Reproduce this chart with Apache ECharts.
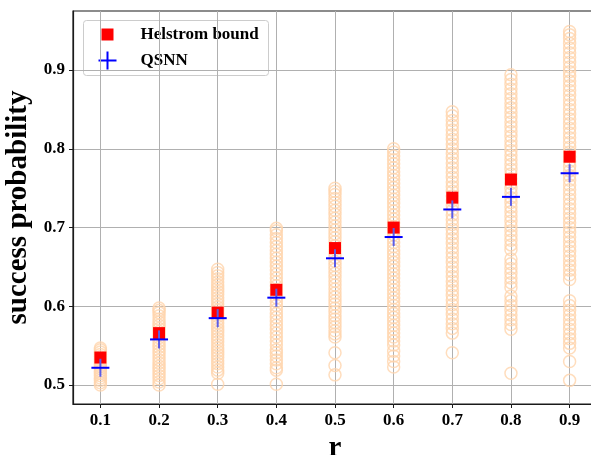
<!DOCTYPE html>
<html>
<head>
<meta charset="utf-8">
<script src="https://cdn.jsdelivr.net/npm/echarts@6/dist/echarts.min.js"></script>
<style>
  html, body { margin: 0; padding: 0; background: #fff; }
  #chart { width: 591px; height: 455px; }
</style>
</head>
<body>
<div id="chart"></div>
<script>
// r values (x positions) and tick labels
const rValues = [0.1, 0.2, 0.3, 0.4, 0.5, 0.6, 0.7, 0.8, 0.9];
const yTicks = [0.5, 0.6, 0.7, 0.8, 0.9];

// Helstrom bound at each r
const helstrom = [0.535, 0.566, 0.592, 0.621, 0.674, 0.700, 0.738, 0.761, 0.790];
// Mean QSNN success probability at each r
const qsnn = [0.522, 0.558, 0.585, 0.611, 0.661, 0.688, 0.723, 0.739, 0.769];

// Individual QSNN trial results per r
const trials01 = [0.500, 0.503, 0.506, 0.509, 0.512, 0.515, 0.518, 0.521, 0.524, 0.527, 0.530, 0.533, 0.536, 0.539, 0.542, 0.545, 0.547];
const trials02 = [0.500, 0.504, 0.508, 0.512, 0.516, 0.520, 0.524, 0.528, 0.532, 0.536, 0.540, 0.544, 0.548, 0.552, 0.556, 0.560, 0.564, 0.568, 0.572, 0.576, 0.580, 0.584, 0.588, 0.592, 0.595, 0.598];
const trials03 = [0.501, 0.515, 0.519, 0.523, 0.527, 0.531, 0.535, 0.539, 0.543, 0.547, 0.551, 0.555, 0.559, 0.563, 0.567, 0.571, 0.575, 0.579, 0.583, 0.587, 0.591, 0.595, 0.599, 0.603, 0.607, 0.611, 0.615, 0.619, 0.623, 0.627, 0.631, 0.635, 0.639, 0.643, 0.647];
const trials04 = [0.501, 0.519, 0.522, 0.527, 0.532, 0.537, 0.541, 0.545, 0.551, 0.556, 0.561, 0.566, 0.571, 0.576, 0.581, 0.586, 0.591, 0.596, 0.601, 0.606, 0.611, 0.616, 0.621, 0.626, 0.631, 0.636, 0.641, 0.646, 0.651, 0.656, 0.661, 0.666, 0.671, 0.676, 0.681, 0.686, 0.691, 0.696, 0.699];
const trials05 = [0.513, 0.525, 0.541, 0.561, 0.565, 0.569, 0.574, 0.579, 0.584, 0.588, 0.593, 0.598, 0.603, 0.607, 0.612, 0.617, 0.622, 0.627, 0.632, 0.637, 0.642, 0.647, 0.652, 0.657, 0.662, 0.667, 0.672, 0.677, 0.682, 0.687, 0.692, 0.697, 0.702, 0.707, 0.712, 0.717, 0.722, 0.727, 0.732, 0.737, 0.742, 0.746, 0.750];
const trials06 = [0.523, 0.530, 0.537, 0.543, 0.551, 0.556, 0.561, 0.566, 0.571, 0.576, 0.581, 0.586, 0.591, 0.596, 0.601, 0.606, 0.611, 0.616, 0.621, 0.626, 0.631, 0.636, 0.641, 0.646, 0.651, 0.656, 0.661, 0.666, 0.671, 0.676, 0.681, 0.686, 0.691, 0.696, 0.701, 0.706, 0.711, 0.716, 0.721, 0.726, 0.731, 0.736, 0.741, 0.746, 0.751, 0.756, 0.761, 0.766, 0.771, 0.776, 0.781, 0.786, 0.791, 0.796, 0.800];
const trials07 = [0.541, 0.566, 0.572, 0.578, 0.584, 0.590, 0.596, 0.602, 0.608, 0.614, 0.620, 0.626, 0.632, 0.638, 0.644, 0.650, 0.656, 0.662, 0.668, 0.674, 0.680, 0.686, 0.692, 0.698, 0.704, 0.710, 0.716, 0.722, 0.728, 0.734, 0.740, 0.746, 0.752, 0.758, 0.764, 0.770, 0.776, 0.782, 0.788, 0.794, 0.800, 0.806, 0.812, 0.818, 0.824, 0.830, 0.836, 0.842, 0.847];
const trials08 = [0.515, 0.571, 0.577, 0.583, 0.589, 0.595, 0.601, 0.607, 0.613, 0.624, 0.630, 0.636, 0.642, 0.648, 0.654, 0.660, 0.672, 0.678, 0.684, 0.690, 0.696, 0.702, 0.708, 0.714, 0.720, 0.726, 0.732, 0.738, 0.744, 0.750, 0.756, 0.762, 0.768, 0.774, 0.780, 0.786, 0.792, 0.798, 0.804, 0.810, 0.816, 0.822, 0.828, 0.834, 0.840, 0.846, 0.852, 0.858, 0.864, 0.870, 0.876, 0.882, 0.888, 0.894];
const trials09 = [0.506, 0.530, 0.547, 0.553, 0.559, 0.565, 0.571, 0.577, 0.583, 0.589, 0.595, 0.601, 0.607, 0.634, 0.640, 0.646, 0.652, 0.658, 0.664, 0.670, 0.676, 0.682, 0.688, 0.694, 0.700, 0.706, 0.712, 0.718, 0.724, 0.730, 0.736, 0.742, 0.748, 0.754, 0.760, 0.766, 0.772, 0.778, 0.784, 0.790, 0.796, 0.802, 0.808, 0.814, 0.820, 0.826, 0.832, 0.838, 0.844, 0.850, 0.856, 0.862, 0.868, 0.874, 0.880, 0.886, 0.892, 0.898, 0.904, 0.910, 0.916, 0.922, 0.928, 0.934, 0.940, 0.945, 0.949];

const trialsByR = [trials01, trials02, trials03, trials04, trials05, trials06, trials07, trials08, trials09];

const trialPoints = [];
trialsByR.forEach((list, i) => list.forEach(v => trialPoints.push([rValues[i], v])));
const helstromPoints = rValues.map((r, i) => [r, helstrom[i]]);
const qsnnPoints = rValues.map((r, i) => [r, qsnn[i]]);

const FONT = 'Liberation Serif';
const axisLine = { show: true, lineStyle: { color: '#1a1a1a', width: 1.2 } };

const chart = echarts.init(document.getElementById('chart'), null, { renderer: 'canvas' });

chart.setOption({
  animation: false,
  backgroundColor: '#ffffff',
  grid: { left: 73, right: -6, top: 11, bottom: 51, show: true, borderColor: '#1a1a1a', borderWidth: 1.2, outerBoundsMode: 'none', containLabel: false },
  xAxis: {
    type: 'value',
    min: 0.0533,
    max: 0.9467,
    name: 'r',
    nameLocation: 'middle',
    nameGap: 21,
    nameTextStyle: { fontFamily: FONT, fontWeight: 'bold', fontSize: 29, color: '#000' },
    axisLine: axisLine,
    axisTick: { show: true, inside: false, length: 4, customValues: rValues, lineStyle: { color: '#1a1a1a' } },
    axisLabel: { customValues: rValues, margin: 8, fontFamily: FONT, fontWeight: 'bold', fontSize: 17, color: '#000', formatter: v => v.toFixed(1) },
    splitLine: { show: true, lineStyle: { color: '#b0b0b0', width: 1 } }
  },
  yAxis: {
    type: 'value',
    min: 0.476,
    max: 0.975,
    name: 'success probability',
    nameLocation: 'middle',
    nameGap: 34,
    nameTextStyle: { fontFamily: FONT, fontWeight: 'bold', fontSize: 29, color: '#000' },
    axisLine: axisLine,
    axisTick: { show: true, inside: false, length: 4, customValues: yTicks, lineStyle: { color: '#1a1a1a' } },
    axisLabel: { customValues: yTicks, margin: 8, fontFamily: FONT, fontWeight: 'bold', fontSize: 17, color: '#000', formatter: v => v.toFixed(1) },
    splitLine: { show: true, lineStyle: { color: '#b0b0b0', width: 1 } }
  },
  series: [
    {
      name: 'trials',
      type: 'scatter',
      data: trialPoints,
      symbol: 'circle',
      symbolSize: 12,
      z: 2,
      itemStyle: { color: 'rgba(0,0,0,0)', borderColor: 'rgba(255, 212, 172, 0.8)', borderWidth: 1.5, opacity: 1 },
      emphasis: { disabled: true }
    },
    {
      name: 'Helstrom bound',
      type: 'scatter',
      data: helstromPoints,
      symbol: 'rect',
      symbolSize: 12,
      z: 3,
      itemStyle: { color: '#ff0000', opacity: 1 }
    },
    {
      name: 'QSNN',
      type: 'custom',
      data: qsnnPoints,
      z: 4,
      renderItem: function (params, api) {
        const p = api.coord([api.value(0), api.value(1)]);
        return {
          type: 'group',
          children: [
            { type: 'line', shape: { x1: p[0], y1: p[1] - 9, x2: p[0], y2: p[1] + 9 }, style: { stroke: '#5c5ce6', lineWidth: 2 } },
            { type: 'line', shape: { x1: p[0] - 9, y1: p[1], x2: p[0] + 9, y2: p[1] }, style: { stroke: '#0000ff', lineWidth: 2 } }
          ]
        };
      }
    }
  ],
  graphic: [
    {
      type: 'group',
      left: 83,
      top: 20,
      z: 100,
      children: [
        { type: 'rect', shape: { x: 0, y: 0, width: 185, height: 55, r: 3 }, style: { fill: 'rgba(255,255,255,0.85)', stroke: '#cccccc', lineWidth: 1 } },
        { type: 'rect', shape: { x: 18, y: 8, width: 12, height: 12 }, style: { fill: '#ff0000' } },
        { type: 'text', style: { x: 57, y: 14, text: 'Helstrom bound', font: 'bold 17px "Liberation Serif"', fill: '#000', verticalAlign: 'middle' } },
        { type: 'line', shape: { x1: 15, y1: 40, x2: 33, y2: 40 }, style: { stroke: '#0000ff', lineWidth: 2 } },
        { type: 'line', shape: { x1: 24, y1: 31, x2: 24, y2: 49 }, style: { stroke: '#0000ff', lineWidth: 2 } },
        { type: 'text', style: { x: 57, y: 40, text: 'QSNN', font: 'bold 17px "Liberation Serif"', fill: '#000', verticalAlign: 'middle' } }
      ]
    }
  ]
});
</script>
</body>
</html>
